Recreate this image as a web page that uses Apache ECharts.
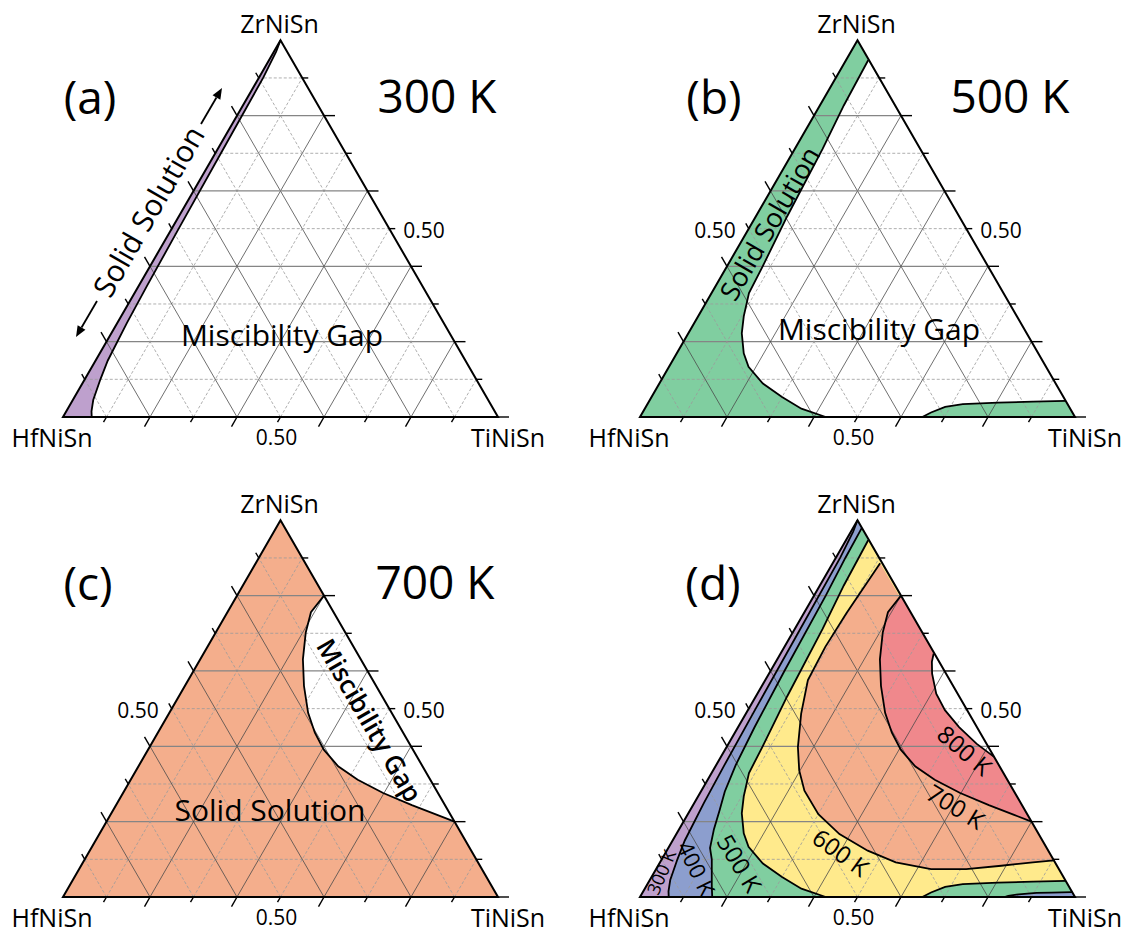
<!DOCTYPE html>
<html><head><meta charset="utf-8">
<script src="https://cdn.jsdelivr.net/npm/echarts@6.0.0/dist/echarts.min.js"></script>
<style>html,body{margin:0;padding:0;background:#fff}#c{width:1128px;height:935px}</style>
</head><body><div id="c"></div>
<script>
// ---- data: compositions given as [x(TiNiSn), x(ZrNiSn)]; x(HfNiSn) = 1 - both ----
const vertexLabels = ['HfNiSn', 'TiNiSn', 'ZrNiSn'];
const gridFractions = [0.1, 0.2, 0.3, 0.4, 0.5, 0.6, 0.7, 0.8, 0.9];
const tickLabelValue = 0.5;
const tickLabelText = '0.50';
const panelLetters = ['(a)', '(b)', '(c)', '(d)'];
const panelTemps = ['300 K', '500 K', '700 K', ''];
const contourLabels = ['300 K', '400 K', '500 K', '600 K', '700 K', '800 K'];

// 300 K solubility limit (left branch, bottom -> apex)
const c300 = [[0.066,0],[0.058,0.015],[0.047,0.045],[0.036,0.10],[0.028,0.15],[0.022,0.25],[0.019,0.35],[0.016,0.5],[0.013,0.7],[0.010,0.9],[0.005,0.97],[0,1]];
// 400 K
const c400L = [[0.166,0],[0.15,0.03],[0.135,0.06],[0.115,0.10],[0.096,0.13],[0.08,0.18],[0.068,0.23],[0.055,0.28],[0.045,0.35],[0.038,0.45],[0.032,0.6],[0.027,0.8],[0.022,0.9],[0.02,0.98]];
const c400R = [[0.987,0.013],[0.94,0.0115],[0.906,0.0107],[0.867,0.0071],[0.845,0.003],[0.838,0]];
// 500 K
const c500L = [[0.427,0],[0.36,0.022],[0.30,0.053],[0.238,0.089],[0.183,0.133],[0.154,0.169],[0.123,0.222],[0.105,0.267],[0.086,0.329],[0.082,0.4],[0.072,0.533],[0.064,0.711],[0.055,0.827],[0.051,0.947]];
const c500R = [[0.957,0.043],[0.883,0.041],[0.804,0.038],[0.725,0.034],[0.688,0.027],[0.663,0.012],[0.649,0]];
// 600 K
const c600 = [[0.109,0.886],[0.098,0.753],[0.094,0.664],[0.098,0.576],[0.127,0.487],[0.164,0.398],[0.198,0.336],[0.237,0.282],[0.30,0.22],[0.375,0.167],[0.462,0.123],[0.542,0.092],[0.632,0.074],[0.713,0.074],[0.789,0.083],[0.857,0.092],[0.903,0.097]];
// 700 K
const c700 = [[0.2,0.8],[0.192,0.756],[0.207,0.702],[0.236,0.631],[0.274,0.56],[0.319,0.489],[0.361,0.436],[0.404,0.391],[0.459,0.347],[0.522,0.311],[0.598,0.276],[0.68,0.244],[0.751,0.218],[0.8,0.2]];
// 800 K
const c800 = [[0.352,0.646],[0.359,0.624],[0.375,0.593],[0.411,0.54],[0.453,0.496],[0.508,0.451],[0.57,0.407],[0.628,0.372]];

// ---- styling ----
const COL = {p300:'#BEA0CD', p400:'#8C9ECE', p500:'#80CEA0', p600:'#FFEA8C', p700:'#F4AE8C', p800:'#F0888C', gap:'#FFFFFF'};
const FONT = '"Open Sans", "Noto Sans", sans-serif';
const S = Math.sqrt(3) / 2;
const W = 435, H = W * S;
const panels = [{left:63,bottom:417},{left:640,bottom:417},{left:63,bottom:897},{left:640,bottom:897}];

const tri = [[0,0],[1,0],[0,1]];
const gap300 = c300.concat([[1,0]]);
const gap400 = c400L.concat(c400R);
const gap500 = c500L.concat(c500R);

const panelFills = [
  [[tri, COL.p300], [gap300, COL.gap]],
  [[tri, COL.p500], [gap500, COL.gap]],
  [[tri, COL.p700], [c700, COL.gap]],
  [[tri, COL.p300], [gap300, COL.p400], [gap400, COL.p500], [gap500, COL.p600], [c600, COL.p700], [c700, COL.p800], [c800, COL.gap]]
];
const panelLines = [
  [c300], [c500L, c500R], [c700], [c300, c400L, c400R, c500L, c500R, c600, c700, c800]
];
const leftTickLabel = [false, true, true, true];

function makeSeries(i) {
  return {
    type: 'custom', coordinateSystem: 'cartesian2d', xAxisIndex: i, yAxisIndex: i,
    data: [[0.5, 0.4]], clip: false, silent: true, animation: false, z: 2,
    renderItem: function (params, api) {
      const P = p => api.coord([p[0] + p[1] / 2, p[1] * S]);
      const ch = [];
      panelFills[i].forEach(f => ch.push({type:'polygon', shape:{points:f[0].map(P)}, style:{fill:f[1], stroke:null}}));
      gridFractions.forEach(k => {
        const even = Math.round(k * 10) % 2 === 0;
        const segs = [[[0,k],[1-k,k]], [[k,0],[k,1-k]], [[1-k,0],[0,1-k]]];
        segs.forEach((s, j) => {
          const a = P(s[0]), b = P(s[1]);
          let st;
          if (even) st = j === 0 ? {stroke:'#858585', lineWidth:1.3} : {stroke:'#4a4a4a', lineWidth:0.8};
          else st = {stroke:'#9a9a9a', lineWidth:0.8, lineDash:[3,2]};
          st.fill = null;
          ch.push({type:'line', shape:{x1:a[0],y1:a[1],x2:b[0],y2:b[1]}, style:st});
        });
      });
      panelLines[i].forEach(l => ch.push({type:'polyline', shape:{points:l.map(P)}, style:{stroke:'#000', lineWidth:1.8, fill:null}}));
      ch.push({type:'polygon', shape:{points:tri.map(P)}, style:{fill:null, stroke:'#000', lineWidth:2}});
      // ticks
      const tk = (pt, dx, dy, len) => ch.push({type:'line', shape:{x1:pt[0],y1:pt[1],x2:pt[0]+dx*len,y2:pt[1]+dy*len}, style:{stroke:'#000', lineWidth:1.4}});
      [0].concat(gridFractions).forEach(k => {
        const even = Math.round(k * 10) % 2 === 0;
        const len = even ? 11 : 6;
        tk(P([1-k,k]), 1, 0, len);
        if (k > 0) {
          tk(P([k,0]), -0.5, S, len);
          tk(P([0,k]), -0.5, -S, len);
        }
      });
      // tick labels
      const tf = {fontSize:21, lineHeight:21, fontFamily:FONT, fill:'#000'};
      const b = P([tickLabelValue, 0]);
      ch.push({type:'text', x:b[0]-4, y:b[1]+20, style:Object.assign({text:tickLabelText, align:'center', verticalAlign:'middle'}, tf)});
      const r = P([1-tickLabelValue, tickLabelValue]);
      ch.push({type:'text', x:r[0]+14, y:r[1]+1, style:Object.assign({text:tickLabelText, align:'left', verticalAlign:'middle'}, tf)});
      if (leftTickLabel[i]) {
        const l = P([0, tickLabelValue]);
        ch.push({type:'text', x:l[0]-13, y:l[1]+1, style:Object.assign({text:tickLabelText, align:'right', verticalAlign:'middle'}, tf)});
      }
      // vertex labels
      const vf = {fontSize:25, lineHeight:25, fontFamily:FONT, fill:'#000', align:'center', verticalAlign:'middle'};
      const c0 = P([0,0]), c1 = P([1,0]), c2 = P([0,1]);
      ch.push({type:'text', x:c0[0]-11, y:c0[1]+20, style:Object.assign({text:vertexLabels[0]}, vf)});
      ch.push({type:'text', x:c1[0]+10, y:c1[1]+20, style:Object.assign({text:vertexLabels[1]}, vf)});
      ch.push({type:'text', x:c2[0]-1, y:c2[1]-17, style:Object.assign({text:vertexLabels[2]}, vf)});
      return {type:'group', children:ch};
    }
  };
}

function txt(t, x, y, size, rot, weight) {
  return {type:'text', x:x, y:y, z:100, rotation:(rot || 0) * Math.PI / 180, silent:true,
    style:{text:t, fontSize:size, lineHeight:size, fontFamily:FONT, fontWeight:weight || 'normal', fill:'#000', align:'center', verticalAlign:'middle'}};
}
function arrow(x1, y1, x2, y2) {
  const dx = x2 - x1, dy = y2 - y1, L = Math.hypot(dx, dy), ux = dx / L, uy = dy / L;
  const hl = 11, hw = 4.5;
  const bx = x2 - ux * hl, by = y2 - uy * hl;
  return [
    {type:'line', z:100, shape:{x1:x1, y1:y1, x2:bx, y2:by}, style:{stroke:'#000', lineWidth:1.8}, silent:true},
    {type:'polygon', z:100, shape:{points:[[x2,y2],[bx - uy*hw, by + ux*hw],[bx + uy*hw, by - ux*hw]]}, style:{fill:'#000'}, silent:true}
  ];
}

const graphics = [
  txt(panelLetters[0], 90, 96, 46), txt(panelTemps[0], 437, 95, 46),
  txt(panelLetters[1], 714, 96, 46), txt(panelTemps[1], 1010, 95, 46),
  txt(panelLetters[2], 88, 582, 46), txt(panelTemps[2], 435, 581, 46),
  txt(panelLetters[3], 713, 582, 46),
  txt('Miscibility Gap', 282, 334, 30),
  txt('Solid Solution', 148, 211, 30, 60),
  txt('Miscibility Gap', 879, 328, 30),
  txt('Solid Solution', 769, 223, 27, 60),
  txt('Solid Solution', 270, 809, 30),
  txt('Miscibility Gap', 370, 720, 26, -60, 600),
  txt(contourLabels[0], 661, 872, 18, 67),
  txt(contourLabels[1], 697, 868, 22, -64),
  txt(contourLabels[2], 740, 863, 24, -59),
  txt(contourLabels[3], 841, 852, 24, -36),
  txt(contourLabels[4], 956, 806, 24, -31.5),
  txt(contourLabels[5], 965, 750, 24, -40.5)
].concat(arrow(97, 301, 76, 337), arrow(201, 124, 222, 88));

const chart = echarts.init(document.getElementById('c'), null, {renderer:'svg', width:1128, height:935});
chart.setOption({
  animation: false,
  backgroundColor: '#fff',
  grid: panels.map(p => ({left:p.left, top:p.bottom - H, width:W, height:H})),
  xAxis: panels.map((p, i) => ({type:'value', gridIndex:i, min:0, max:1, show:false})),
  yAxis: panels.map((p, i) => ({type:'value', gridIndex:i, min:0, max:S, show:false})),
  series: panels.map((p, i) => makeSeries(i)),
  graphic: graphics
});
</script></body></html>
